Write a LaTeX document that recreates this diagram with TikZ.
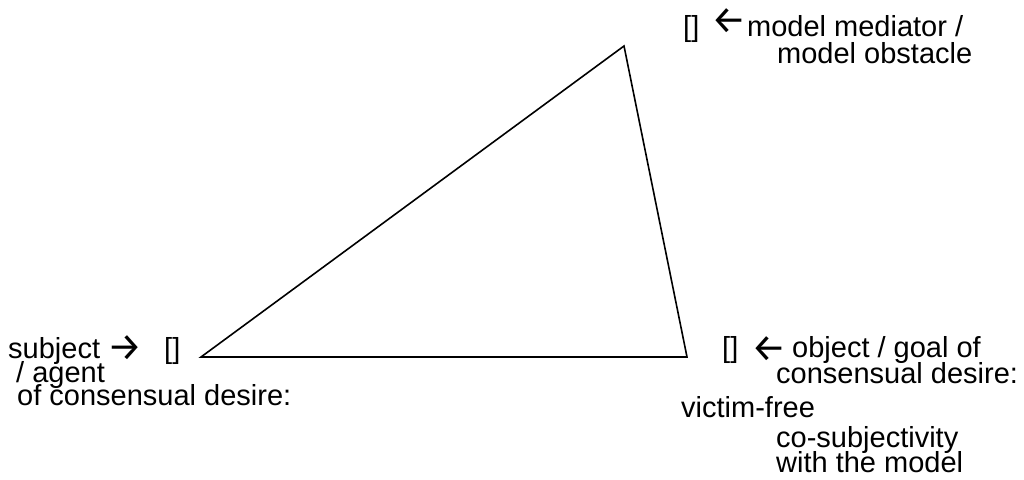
\documentclass[tikz,border=0pt]{standalone}
\usepackage{fontspec}
\setmainfont{Liberation Sans}
\newfontfamily\arrowfont{Fira Sans}
\begin{document}
\begin{tikzpicture}[x=1pt,y=-1pt,
  lbl/.style={anchor=base west, inner sep=0pt, font=\fontsize{29}{23.5}\selectfont},
  arr/.style={anchor=center, inner sep=0pt, font=\arrowfont\fontsize{39}{39}\selectfont},
  edge/.style={line width=1.6pt, line join=miter}]
\useasboundingbox (0,0) rectangle (1024,479);
\coordinate (L) at (201,357);
\coordinate (R) at (687,357);
\coordinate (T) at (624,46);
\draw[edge] (L) -- (R) -- (T) -- cycle;
% top vertex label
\node[lbl] (tbr) at (683,36) {[]};
\node[arr] (tarr) at (729.5,21.5) {←};
\node[lbl] (t1) at (747,36) {model mediator /};
\node[lbl] (t2) at (777,63) {model obstacle};
% left vertex label
\node[lbl] (l1) at (8,358) {subject};
\node[arr] (larr) at (125,348.5) {→};
\node[lbl] (lbr) at (164,358) {[]};
\node[lbl] (l2) at (16,382) {/ agent};
\node[lbl] (l3) at (17,405) {of consensual desire:};
% right vertex label
\node[lbl] (rbr) at (722,357) {[]};
\node[arr] (rarr) at (769.5,349.5) {←};
\node[lbl] (r1) at (792,357) {object / goal of};
\node[lbl] (r2) at (776,383) {consensual desire:};
\node[lbl] (r3) at (681,417) {victim-free};
\node[lbl] (r4) at (776,447) {co-subjectivity};
\node[lbl] (r5) at (776,472) {with the model};
\end{tikzpicture}
\end{document}
